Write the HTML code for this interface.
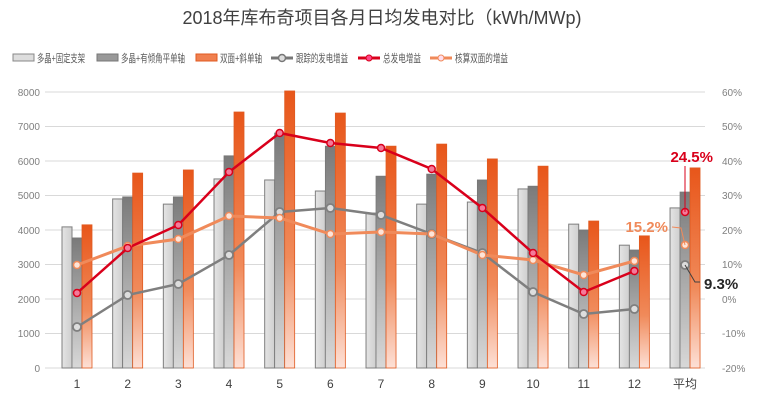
<!DOCTYPE html>
<html><head><meta charset="utf-8"><style>
body{margin:0;background:#fff}
svg{display:block;font-family:"Liberation Sans","Noto Sans CJK SC",sans-serif}
</style></head><body>
<svg width="764" height="410" viewBox="0 0 764 410" xmlns="http://www.w3.org/2000/svg">
<defs>
<linearGradient id="lg" x1="0" y1="0" x2="1" y2="0"><stop offset="0" stop-color="#e4e4e4"/><stop offset="1" stop-color="#cfcfcf"/></linearGradient>
<linearGradient id="dg" x1="0" y1="0" x2="0" y2="1"><stop offset="0" stop-color="#7a7a7a"/><stop offset="1" stop-color="#d8d8d8"/></linearGradient>
<linearGradient id="og" x1="0" y1="0" x2="0" y2="1"><stop offset="0" stop-color="#e8561a"/><stop offset="0.6" stop-color="#f08a5a"/><stop offset="1" stop-color="#fde0d6"/></linearGradient>
</defs>
<text x="382" y="24" text-anchor="middle" font-size="18" fill="#404040">2018年库布奇项目各月日均发电对比（kWh/MWp)</text>
<g font-size="11" fill="#595959">
<rect x="13" y="54" width="21" height="7" fill="#ddd" stroke="#888"/><text x="37" y="62" textLength="48" lengthAdjust="spacingAndGlyphs">多晶+固定支架</text>
<rect x="97" y="54" width="21" height="7" fill="#999" stroke="#777"/><text x="121" y="62" textLength="64" lengthAdjust="spacingAndGlyphs">多晶+有倾角平单轴</text>
<rect x="196" y="54" width="21" height="7" fill="#f08050" stroke="#e05a20"/><text x="220" y="62" textLength="42" lengthAdjust="spacingAndGlyphs">双面+斜单轴</text>
<line x1="271" y1="58" x2="293" y2="58" stroke="#777" stroke-width="3"/><circle cx="282" cy="58" r="3.5" fill="#ddd" stroke="#777" stroke-width="1.5"/><text x="296" y="62" textLength="52" lengthAdjust="spacingAndGlyphs">跟踪的发电增益</text>
<line x1="358" y1="58" x2="380" y2="58" stroke="#d9001b" stroke-width="3"/><circle cx="369" cy="58" r="3" fill="#f48" stroke="#d9001b"/><text x="383" y="62" textLength="38" lengthAdjust="spacingAndGlyphs">总发电增益</text>
<line x1="430" y1="58" x2="452" y2="58" stroke="#f08a5a" stroke-width="3"/><circle cx="441" cy="58" r="3" fill="#fde" stroke="#f08a5a"/><text x="455" y="62" textLength="53" lengthAdjust="spacingAndGlyphs">核算双面的增益</text>
</g>
<g stroke="#d9d9d9" stroke-width="1">
<line x1="45" x2="705" y1="368" y2="368"/><line x1="45" x2="705" y1="333.5" y2="333.5"/><line x1="45" x2="705" y1="299" y2="299"/><line x1="45" x2="705" y1="264.5" y2="264.5"/><line x1="45" x2="705" y1="230" y2="230"/><line x1="45" x2="705" y1="195.5" y2="195.5"/><line x1="45" x2="705" y1="161" y2="161"/><line x1="45" x2="705" y1="126.5" y2="126.5"/><line x1="45" x2="705" y1="92" y2="92"/>
</g>
<g font-size="10" fill="#7f7f7f" text-anchor="end">
<text x="40" y="372">0</text><text x="40" y="337">1000</text><text x="40" y="303">2000</text><text x="40" y="268">3000</text><text x="40" y="234">4000</text><text x="40" y="199">5000</text><text x="40" y="165">6000</text><text x="40" y="130">7000</text><text x="40" y="96">8000</text>
</g>
<g font-size="10" fill="#7f7f7f" text-anchor="start">
<text x="722" y="372">-20%</text><text x="722" y="337">-10%</text><text x="722" y="303">0%</text><text x="722" y="268">10%</text><text x="722" y="234">20%</text><text x="722" y="199">30%</text><text x="722" y="165">40%</text><text x="722" y="130">50%</text><text x="722" y="96">60%</text>
</g>
<g id="bars"></g>
<g font-size="12" fill="#404040" text-anchor="middle" id="xl"></g>
<polyline id="gl" fill="none" stroke="#7f7f7f" stroke-width="2.5"/>
<polyline id="ol" fill="none" stroke="#f08a5a" stroke-width="3"/>
<polyline id="rl" fill="none" stroke="#d9001b" stroke-width="2.5"/>
<g id="pts"></g>
<line x1="685" y1="212" x2="685" y2="166" stroke="#d9001b" stroke-width="1"/>
<polyline points="672,227 681,228 685,245" fill="none" stroke="#f08a5a" stroke-width="1"/>
<polyline points="685,265 695,282 700,282" fill="none" stroke="#404040" stroke-width="1"/>
<text x="713" y="162" font-size="15" font-weight="bold" fill="#d9001b" text-anchor="end">24.5%</text>
<text x="668" y="232" font-size="15" font-weight="bold" fill="#f08a5a" text-anchor="end">15.2%</text>
<text x="704" y="289" font-size="15" font-weight="bold" fill="#262626">9.3%</text>
<script>
var ns="http://www.w3.org/2000/svg";
var L=[4090,4900,4750,5480,5450,5130,4490,4750,4810,5190,4170,3560,4640];
var D=[3770,4960,4960,6150,6810,6430,5560,5620,5450,5270,4000,3420,5100];
var O=[4150,5650,5740,7420,8030,7390,6430,6490,6060,5850,4260,3830,5800];
var G=[327,295,284,255,212,208,215,234,253,292,314,309,265];
var R=[293,248,225,172,133,143,148,169,208,253,292,271,212];
var Q=[265,246,239,216,218,234,232,234,255,260,275,261,245];
var lab=["1","2","3","4","5","6","7","8","9","10","11","12","平均"];
var b=document.getElementById("bars"),xl=document.getElementById("xl"),p=document.getElementById("pts");
function el(t,a,par){var e=document.createElementNS(ns,t);for(var k in a)e.setAttribute(k,a[k]);par.appendChild(e);return e;}
function y(v){return 368-v*0.0345;}
var gp=[],op=[],rp=[];
for(var i=0;i<13;i++){var c=77+i*50.67;
el("rect",{x:c-15,y:y(L[i]),width:10,height:368-y(L[i]),fill:"url(#lg)",stroke:"#7f7f7f","stroke-width":1},b);
el("rect",{x:c-5,y:y(D[i]),width:10,height:368-y(D[i]),fill:"url(#dg)",stroke:"#777","stroke-width":0.8},b);
el("rect",{x:c+5,y:y(O[i]),width:10,height:368-y(O[i]),fill:"url(#og)",stroke:"#e05a20","stroke-width":0.8},b);
var t=el("text",{x:c,y:388},xl);t.textContent=lab[i];
if(i<12){gp.push(c+","+G[i]);op.push(c+","+Q[i]);rp.push(c+","+R[i]);}
}
document.getElementById("gl").setAttribute("points",gp.join(" "));
document.getElementById("ol").setAttribute("points",op.join(" "));
document.getElementById("rl").setAttribute("points",rp.join(" "));
for(var i=0;i<13;i++){var c=77+i*50.67;
el("circle",{cx:c,cy:G[i],r:4,fill:"#ddd",stroke:"#7f7f7f","stroke-width":1.8},p);
el("circle",{cx:c,cy:Q[i],r:3.5,fill:"#fde4d8",stroke:"#f08a5a","stroke-width":1.5},p);
el("circle",{cx:c,cy:R[i],r:3.5,fill:"#f47a9a",stroke:"#d9001b","stroke-width":1.5},p);
}
</script>
</svg>
</body></html>
